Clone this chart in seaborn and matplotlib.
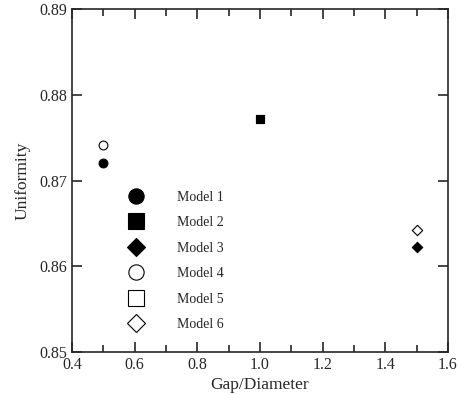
import matplotlib
matplotlib.use("Agg")
import matplotlib.pyplot as plt
from matplotlib.lines import Line2D
from matplotlib.ticker import MultipleLocator
import seaborn as sns
import pandas as pd

models = ["Model 1", "Model 2", "Model 3", "Model 4", "Model 5", "Model 6"]
gap_diameter = [0.5, 1.0, 1.5, 0.5, 1.0, 1.5]
uniformity = [0.8721, 0.8772, 0.8623, 0.8742, 0.8772, 0.8643]
markers = ["o", "s", "D", "o", "s", "D"]
filled = [True, True, True, False, False, False]

df = pd.DataFrame({"model": models, "gap": gap_diameter, "uni": uniformity})

sns.set_style("ticks")
plt.rcParams["font.family"] = ["Liberation Serif", "DejaVu Serif"]

fig = plt.figure(figsize=(4.59, 3.94), dpi=100)
ax = fig.add_axes([0.157, 0.106, 0.819, 0.871])

# draw open markers first, filled on top
order = [4, 3, 5, 0, 1, 2]
for i in order:
    sub = df.iloc[[i]]
    sns.scatterplot(data=sub, x="gap", y="uni", ax=ax,
                    marker=markers[i],
                    s=40 if markers[i] != "D" else 28,
                    color="black" if filled[i] else "white",
                    edgecolor="black", linewidth=0.8, zorder=3 + (1 if filled[i] else 0),
                    legend=False)

ax.set_xlim(0.4, 1.6)
ax.set_ylim(0.85, 0.89)
ax.xaxis.set_major_locator(MultipleLocator(0.2))
ax.xaxis.set_minor_locator(MultipleLocator(0.1))
ax.yaxis.set_major_locator(MultipleLocator(0.01))
ax.tick_params(axis="both", which="both", direction="in", top=True, right=True,
               labelsize=11.5, width=1.2)
ax.tick_params(axis="both", which="major", length=7)
ax.tick_params(axis="both", which="minor", length=5)
ax.set_xticklabels([f"{v:.1f}" for v in ax.get_xticks()])
ax.set_yticklabels([f"{v:.2f}" for v in ax.get_yticks()])
for sp in ax.spines.values():
    sp.set_linewidth(1.2)

ax.set_xlabel("Gap/Diameter", fontsize=12.5, labelpad=3)
ax.set_ylabel("Uniformity", fontsize=12.5, labelpad=6)

handles = []
for i in range(6):
    handles.append(Line2D([], [], linestyle="none", marker=markers[i],
                          markersize=11 if markers[i] != "D" else 9,
                          markerfacecolor="black" if filled[i] else "white",
                          markeredgecolor="black", markeredgewidth=0.8))
leg = ax.legend(handles, models, loc="upper left", bbox_to_anchor=(0.119, 0.487),
                frameon=False, fontsize=10, handletextpad=1.96, labelspacing=0.9,
                borderaxespad=0)

fig.savefig("out.png", dpi=100)
